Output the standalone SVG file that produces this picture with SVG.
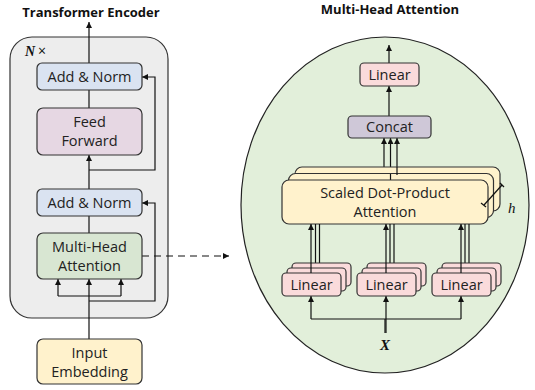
<svg xmlns="http://www.w3.org/2000/svg" width="535" height="390" viewBox="0 0 535 390">
  <defs>
    <marker id="arr" viewBox="0 0 8 8" refX="8" refY="4" markerWidth="6" markerHeight="6" markerUnits="userSpaceOnUse" orient="auto">
      <path d="M0,0 L8,4 L0,8 Z" fill="#111"/>
    </marker>
    <style>
      .box { stroke: #333; stroke-width: 1.2; }
      .lbl { font-family: "Open Sans", "Noto Sans", sans-serif; font-size: 14.5px; fill: #222; text-anchor: middle; }
      .title { font-family: "Open Sans", "Noto Sans", sans-serif; font-size: 13px; font-weight: bold; fill: #111; text-anchor: middle; }
      .ln { stroke: #111; stroke-width: 1.2; fill: none; }
      .arrow { stroke: #111; stroke-width: 1.2; fill: none; marker-end: url(#arr); }
      .norm { fill: #dae3f1; }
      .ffn { fill: #e6d7e3; }
      .mha { fill: #d8e6d2; }
      .emb { fill: #fff2cc; }
      .lin { fill: #fadbdb; }
      .cat { fill: #cfc8d8; }
      .sdpa { fill: #fff2cc; }
    </style>
  </defs>

  <!-- titles -->
  <text class="title" x="91" y="17">Transformer Encoder</text>
  <text class="title" x="390" y="14">Multi-Head Attention</text>

  <!-- encoder frame -->
  <rect id="encoder-frame" x="10" y="37" width="158" height="281" rx="22" fill="#ededed" stroke="#333" stroke-width="1.2"/>
  <text x="25" y="56" font-family="Liberation Serif, serif" font-size="14" font-weight="bold" font-style="italic" fill="#111">N</text>
  <text x="38" y="56" font-family="Open Sans, sans-serif" font-size="14" fill="#111">×</text>

  <!-- multi-head attention detail -->
  <ellipse id="mha-detail" cx="385" cy="205" rx="144" ry="168" fill="#e2efda" stroke="#222" stroke-width="1.2"/>

  <!-- connectors -->
  <g id="connectors">
    <!-- encoder stack -->
    <line class="arrow" x1="89" y1="63" x2="89" y2="22"/>
    <line class="ln" x1="89" y1="108" x2="89" y2="90"/>
    <line class="arrow" x1="89" y1="189" x2="89" y2="155"/>
    <polyline class="arrow" points="89,170 155,170 155,77 142,77"/>
    <line class="ln" x1="89" y1="233" x2="89" y2="216"/>
    <polyline class="arrow" points="89,301 155,301 155,203 142,203"/>
    <line class="ln" x1="89" y1="339" x2="89" y2="296"/>
    <line class="ln" x1="58" y1="296" x2="121" y2="296"/>
    <line class="arrow" x1="58" y1="296" x2="58" y2="279"/>
    <line class="arrow" x1="89" y1="296" x2="89" y2="279"/>
    <line class="arrow" x1="121" y1="296" x2="121" y2="279"/>
    <line class="arrow" x1="142" y1="256" x2="229" y2="256" stroke-dasharray="7,5"/>

    <!-- attention detail -->
    <line class="arrow" x1="389" y1="63" x2="389" y2="45"/>
    <line class="arrow" x1="389" y1="116" x2="389" y2="86"/>
    <line class="arrow" x1="384" y1="180" x2="384" y2="138"/>
    <line class="arrow" x1="390.5" y1="174" x2="390.5" y2="138"/>
    <line class="arrow" x1="397" y1="167" x2="397" y2="138"/>

    <line class="ln" x1="385" y1="333" x2="385" y2="319"/>
    <line class="ln" x1="311" y1="319" x2="461" y2="319"/>
    <line class="arrow" x1="311" y1="319" x2="311" y2="296"/>
    <line class="arrow" x1="386" y1="333" x2="386" y2="296"/>
    <line class="arrow" x1="461" y1="319" x2="461" y2="296"/>
  </g>

  <!-- encoder nodes -->
  <g id="add-norm-top">
    <rect class="box norm" x="37" y="63" width="105" height="27" rx="5"/>
    <text class="lbl" x="89.5" y="81.5">Add &amp; Norm</text>
  </g>
  <g id="feed-forward">
    <rect class="box ffn" x="37" y="108" width="105" height="47" rx="6"/>
    <text class="lbl" x="89.5" y="127">Feed</text>
    <text class="lbl" x="89.5" y="146">Forward</text>
  </g>
  <g id="add-norm-bottom">
    <rect class="box norm" x="37" y="189" width="105" height="27" rx="5"/>
    <text class="lbl" x="89.5" y="207.5">Add &amp; Norm</text>
  </g>
  <g id="multi-head-attention">
    <rect class="box mha" x="37" y="233" width="105" height="46" rx="6"/>
    <text class="lbl" x="89.5" y="252">Multi-Head</text>
    <text class="lbl" x="89.5" y="271">Attention</text>
  </g>
  <g id="input-embedding">
    <rect class="box emb" x="37" y="339" width="105" height="45" rx="6"/>
    <text class="lbl" x="89.5" y="358">Input</text>
    <text class="lbl" x="89.5" y="377">Embedding</text>
  </g>

  <!-- attention detail nodes -->
  <g id="linear-out">
    <rect class="box lin" x="360" y="63" width="59" height="23" rx="4"/>
    <text class="lbl" x="389.5" y="79.5">Linear</text>
  </g>
  <g id="concat">
    <rect class="box cat" x="348" y="116" width="83" height="22" rx="4"/>
    <text class="lbl" x="389.5" y="132">Concat</text>
  </g>

  <g id="scaled-dot-product">
    <rect class="box sdpa" x="295" y="167" width="205" height="44" rx="7"/>
    <rect class="box sdpa" x="288.5" y="173.5" width="205" height="44" rx="7"/>
    <line class="ln" x1="390.5" y1="174" x2="390.5" y2="181"/>
    <line class="ln" x1="397" y1="167" x2="397" y2="175"/>
    <rect class="box sdpa" x="282" y="180" width="206" height="44" rx="7"/>
    <text class="lbl" x="385" y="198">Scaled Dot-Product</text>
    <text class="lbl" x="385" y="217">Attention</text>
    <!-- head count marker -->
    <line class="ln" x1="484" y1="205" x2="502" y2="185" stroke-width="1.5"/>
    <line class="ln" x1="481" y1="203" x2="486" y2="207"/>
    <line class="ln" x1="500" y1="183" x2="504" y2="187"/>
    <text x="508" y="213" font-family="Liberation Serif, serif" font-size="15" font-style="italic" fill="#111">h</text>
  </g>

  <!-- parallel lines feeding the stacked heads -->
  <g id="head-feeds" class="ln">
    <line x1="315.5" y1="263" x2="315.5" y2="224"/>
    <line x1="319.5" y1="263" x2="319.5" y2="224"/>
    <line x1="390" y1="263" x2="390" y2="224"/>
    <line x1="394" y1="263" x2="394" y2="224"/>
    <line x1="465" y1="263" x2="465" y2="224"/>
    <line x1="469" y1="263" x2="469" y2="224"/>
  </g>

  <g id="linear-q">
    <rect class="box lin" x="292" y="263" width="59" height="23" rx="4"/>
    <rect class="box lin" x="287" y="268" width="59" height="23" rx="4"/>
    <rect class="box lin" x="282" y="273" width="59" height="23" rx="4"/>
    <text class="lbl" x="311.5" y="289.5">Linear</text>
  </g>
  <g id="linear-k">
    <rect class="box lin" x="367" y="263" width="59" height="23" rx="4"/>
    <rect class="box lin" x="362" y="268" width="59" height="23" rx="4"/>
    <rect class="box lin" x="357" y="273" width="59" height="23" rx="4"/>
    <text class="lbl" x="386.5" y="289.5">Linear</text>
  </g>
  <g id="linear-v">
    <rect class="box lin" x="442" y="263" width="59" height="23" rx="4"/>
    <rect class="box lin" x="437" y="268" width="59" height="23" rx="4"/>
    <rect class="box lin" x="432" y="273" width="59" height="23" rx="4"/>
    <text class="lbl" x="461.5" y="289.5">Linear</text>
  </g>

  <!-- front-box arrows drawn over the stacks -->
  <g id="head-arrows">
    <line class="arrow" x1="311" y1="273" x2="311" y2="224"/>
    <line class="arrow" x1="386" y1="273" x2="386" y2="224"/>
    <line class="arrow" x1="461" y1="273" x2="461" y2="224"/>
  </g>

  <text x="385" y="350" font-family="Liberation Serif, serif" font-size="15" font-weight="bold" font-style="italic" fill="#111" text-anchor="middle">X</text>
</svg>
